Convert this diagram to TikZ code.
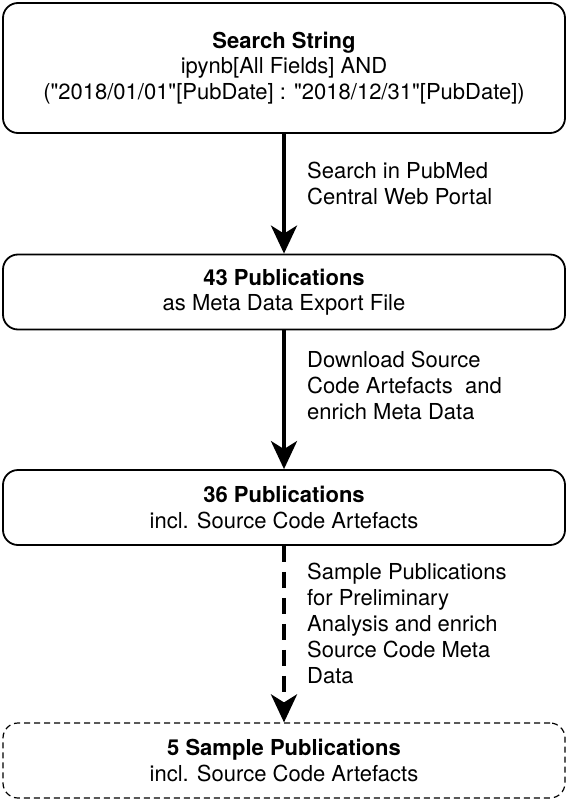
\documentclass[tikz,border=0pt]{standalone}
\usepackage{fontspec}
\setmainfont[Ligatures=TeXOff]{TeX Gyre Heros}
\usetikzlibrary{arrows.meta}
\begin{document}
\begin{tikzpicture}[x=1pt,y=-1pt,
  stagebox/.style={draw=black,line width=1.8pt,rounded corners=15pt,minimum width=562pt,align=center,inner sep=0pt,font=\fontsize{22}{25.5}\selectfont},
  samplebox/.style={stagebox,line width=1.2pt,dash pattern=on 6pt off 4pt},
  flowarrow/.style={line width=4pt,-{Stealth[length=28pt,width=26pt,inset=8pt]}},
  dashedarrow/.style={flowarrow,dash pattern=on 16pt off 10pt},
  steplabel/.style={anchor=west,align=left,inner sep=0pt,font=\fontsize{22}{26}\selectfont}]
\useasboundingbox (0,0) rectangle (567,803);
\node[stagebox,minimum height=130pt] (b1) at (284,68) {\textbf{Search String}\\ipynb[All Fields] AND\\("2018/01/01"[PubDate] : "2018/12/31"[PubDate])};
\node[stagebox,minimum height=75pt] (b2) at (284,292) {\textbf{43 Publications}\\as Meta Data Export File};
\node[stagebox,minimum height=75pt] (b3) at (284,507.5) {\textbf{36 Publications}\\incl. Source Code Artefacts};
\node[samplebox,minimum height=75pt] (b4) at (284,760.5) {\textbf{5 Sample Publications}\\incl. Source Code Artefacts};
\draw[flowarrow] (b1.south) -- (b2.north);
\draw[flowarrow] (b2.south) -- (b3.north);
\draw[dashedarrow] (b3.south) -- (b4.north);
\node[steplabel] (l1) at (307,183.5) {Search in PubMed\\Central Web Portal};
\node[steplabel] (l2) at (307,385) {Download Source\\Code Artefacts\ \ and\\enrich Meta Data};
\node[steplabel] (l3) at (307,623) {Sample Publications\\for Preliminary\\Analysis and enrich\\Source Code Meta\\Data};
\end{tikzpicture}
\end{document}
